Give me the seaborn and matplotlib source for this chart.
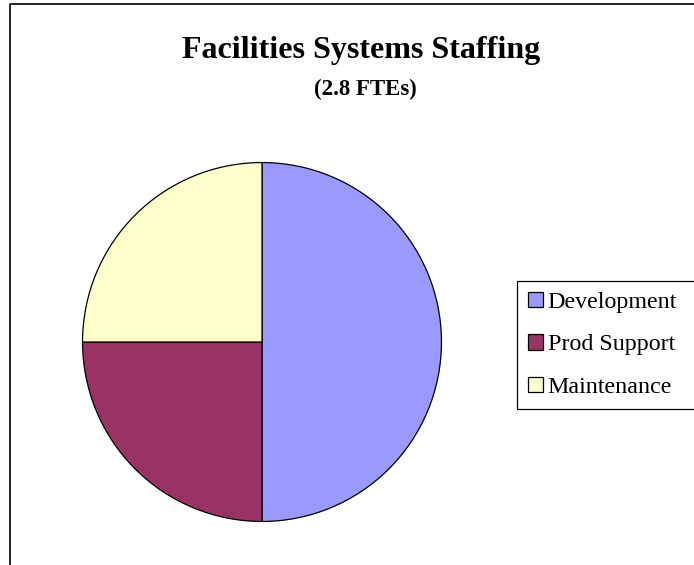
import matplotlib
matplotlib.use("Agg")
import matplotlib.pyplot as plt
from matplotlib.lines import Line2D
from matplotlib.patches import Patch
import seaborn as sns

# Staffing breakdown
categories = ["Development", "Prod Support", "Maintenance"]
shares = [50, 25, 25]
colors = ["#9999FF", "#993366", "#FFFFCC"]

title = "Facilities Systems Staffing"
subtitle = "(2.8 FTEs)"

sns.set_theme(style="white")
plt.rcParams["font.family"] = ["Liberation Serif", "DejaVu Serif"]
plt.rcParams["text.color"] = "black"

W, H = 694, 565
fig = plt.figure(figsize=(W / 100, H / 100), dpi=100)
fig.patch.set_facecolor("white")

# pie axes: centre (262, 342) px, radius 180 px
cx, cy, r = 262, 342, 180
ax = fig.add_axes([(cx - r) / W, (H - cy - r) / H, 2 * r / W, 2 * r / H])
ax.pie(shares, colors=colors, startangle=90, counterclock=False,
       wedgeprops=dict(edgecolor="black", linewidth=0.9))
ax.set_xlim(-1.003, 1.003)
ax.set_ylim(-1.003, 1.003)
ax.set_aspect("equal")
ax.axis("off")

# chart-area border (left and top edges)
fig.add_artist(Line2D([9.5 / W, 9.5 / W, 1.0], [0.0, 1 - 3.5 / H, 1 - 3.5 / H],
                      transform=fig.transFigure, color="black", linewidth=1.2))

fig.text(361 / W, 1 - 58 / H, title, ha="center", va="baseline",
         fontsize=23, fontweight="bold", color="black")
fig.text(365.5 / W, 1 - 95 / H, subtitle, ha="center", va="baseline",
         fontsize=16.5, fontweight="bold", color="black")

# legend box runs past the right edge of the figure
handles = [Patch(facecolor=c, edgecolor="black", linewidth=0.9) for c in colors]
leg_h = 126
leg = fig.legend(handles, categories, loc="upper left", mode="expand",
                 bbox_to_anchor=(517 / W, 1 - (281 + leg_h) / H, 190 / W, leg_h / H),
                 fontsize=17.3, frameon=True, fancybox=False,
                 handlelength=0.62, handleheight=0.62, handletextpad=0.2,
                 labelspacing=0.88, borderpad=0.45, borderaxespad=0.0)
for t in leg.get_texts():
    t.set_color("black")
frame = leg.get_frame()
frame.set_edgecolor("black")
frame.set_linewidth(0.9)
frame.set_facecolor("white")
frame.set_alpha(1)

fig.savefig("out.png", dpi=100)
